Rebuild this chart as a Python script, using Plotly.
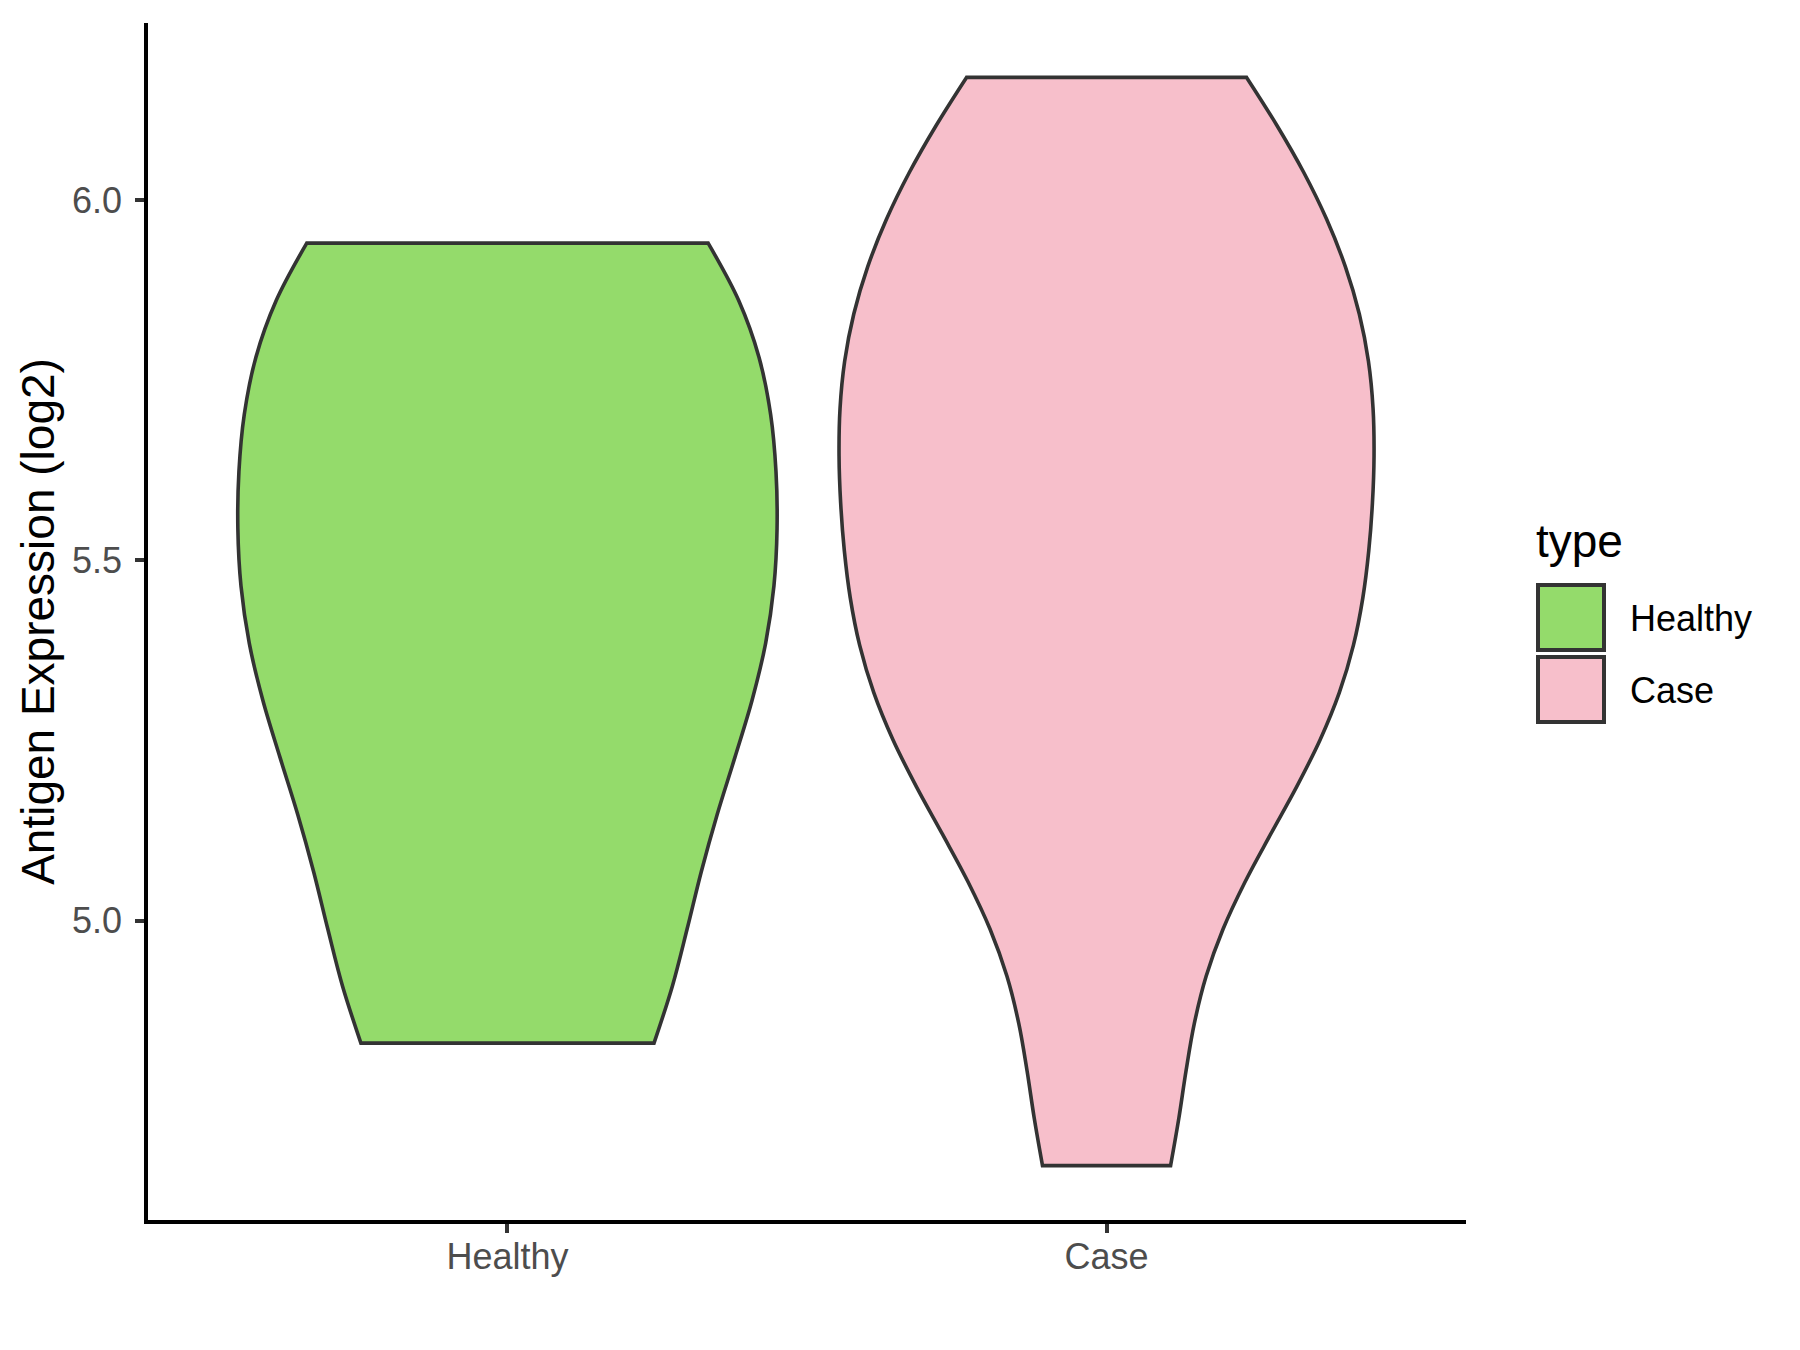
import plotly.graph_objects as go

# ---- data ----
categories = ["Healthy", "Case"]
healthy_values = [4.83, 4.83, 4.83, 4.83, 4.83, 4.90, 4.90, 4.96, 5.13, 5.22, 5.27, 5.29,
                  5.32, 5.34, 5.36, 5.38, 5.40, 5.42, 5.45, 5.47, 5.49, 5.53, 5.59, 5.67,
                  5.72, 5.76, 5.81, 5.82, 5.85, 5.86, 5.87, 5.90, 5.91, 5.92, 5.93, 5.94]
case_values = [4.66, 4.68, 4.73, 4.96, 5.06, 5.14, 5.18, 5.22, 5.26, 5.29, 5.32, 5.35,
               5.38, 5.41, 5.45, 5.48, 5.52, 5.54, 5.61, 5.63, 5.67, 5.71, 5.73, 5.76,
               5.78, 5.81, 5.84, 5.87, 5.90, 5.96, 6.00, 6.03, 6.11, 6.15, 6.16, 6.17]
bandwidths = [0.24, 0.20]
y_tick_vals = [5.0, 5.5, 6.0]
y_tick_text = ["5.0", "5.5", "6.0"]

# ---- style ----
FONT = "Liberation Sans, Arial, Helvetica, sans-serif"
fills = ["#94DB6B", "#F7BFCB"]
OUTLINE = "#333333"
violin_widths = [0.9, 0.893]

# page has an 8px body margin; plot area in page pixels: x 148..1466, y 23..1220
ML, MR, MT, MB = 140, 342, 15, 138
PX0, PW = 148, 1318
PY1, PH = 1220, 1197

fig = go.Figure()
series = [healthy_values, case_values]
for cat, vals, bw, col, vw in zip(categories, series, bandwidths, fills, violin_widths):
    fig.add_trace(go.Violin(
        x=[cat] * len(vals), y=vals, name=cat, bandwidth=bw, spanmode="hard",
        width=vw, scalemode="width", fillcolor=col, opacity=1,
        line=dict(color=OUTLINE, width=3.6), points=False,
        box_visible=False, meanline_visible=False, showlegend=False,
        hoverinfo="skip"))

all_vals = healthy_values + case_values
lo, hi = min(all_vals), max(all_vals)
pad = 0.05 * (hi - lo)

fig.update_layout(
    width=1800, height=1350, violinmode="overlay",
    plot_bgcolor="white", paper_bgcolor="white",
    margin=dict(l=ML, r=MR, t=MT, b=MB),
    font=dict(family=FONT),
    showlegend=False,
)
fig.update_xaxes(
    type="category", categoryorder="array", categoryarray=categories,
    range=[-0.6, len(categories) - 0.4],
    showline=True, linecolor="black", linewidth=3.5, mirror=False,
    ticks="outside", ticklen=9, tickwidth=3.5, tickcolor=OUTLINE,
    tickfont=dict(size=36, color="#4D4D4D", family=FONT),
    showgrid=False, zeroline=False, ticklabelstandoff=-7,
)
fig.update_yaxes(
    range=[lo - pad, hi + pad],
    tickvals=y_tick_vals, ticktext=y_tick_text,
    showline=True, linecolor="black", linewidth=3.5, mirror=False,
    ticks="outside", ticklen=9, tickwidth=3.5, tickcolor=OUTLINE,
    tickfont=dict(size=36, color="#4D4D4D", family=FONT),
    showgrid=False, zeroline=False, ticklabelstandoff=6,
    title=dict(text="Antigen Expression (log2)", font=dict(size=46, color="black", family=FONT), standoff=4),
)

# ---- legend (ggplot-style key boxes) ----
def px_x(px):
    return (px - PX0) / PW

def px_y(py):
    return (PY1 - py) / PH

fig.add_annotation(text="type", xref="paper", yref="paper", x=px_x(1534), y=px_y(541),
                   xanchor="left", yanchor="middle", showarrow=False,
                   font=dict(size=46, color="black", family=FONT))
key_tops = [585, 657]
for cat, col, top in zip(categories, fills, key_tops):
    fig.add_shape(type="rect", xref="paper", yref="paper",
                  x0=px_x(1538), x1=px_x(1604), y0=px_y(top + 65), y1=px_y(top),
                  fillcolor=col, line=dict(color=OUTLINE, width=4))
    fig.add_annotation(text=cat, xref="paper", yref="paper", x=px_x(1628), y=px_y(top + 33),
                       xanchor="left", yanchor="middle", showarrow=False,
                       font=dict(size=36, color="black", family=FONT))

fig.write_html("out.html")
